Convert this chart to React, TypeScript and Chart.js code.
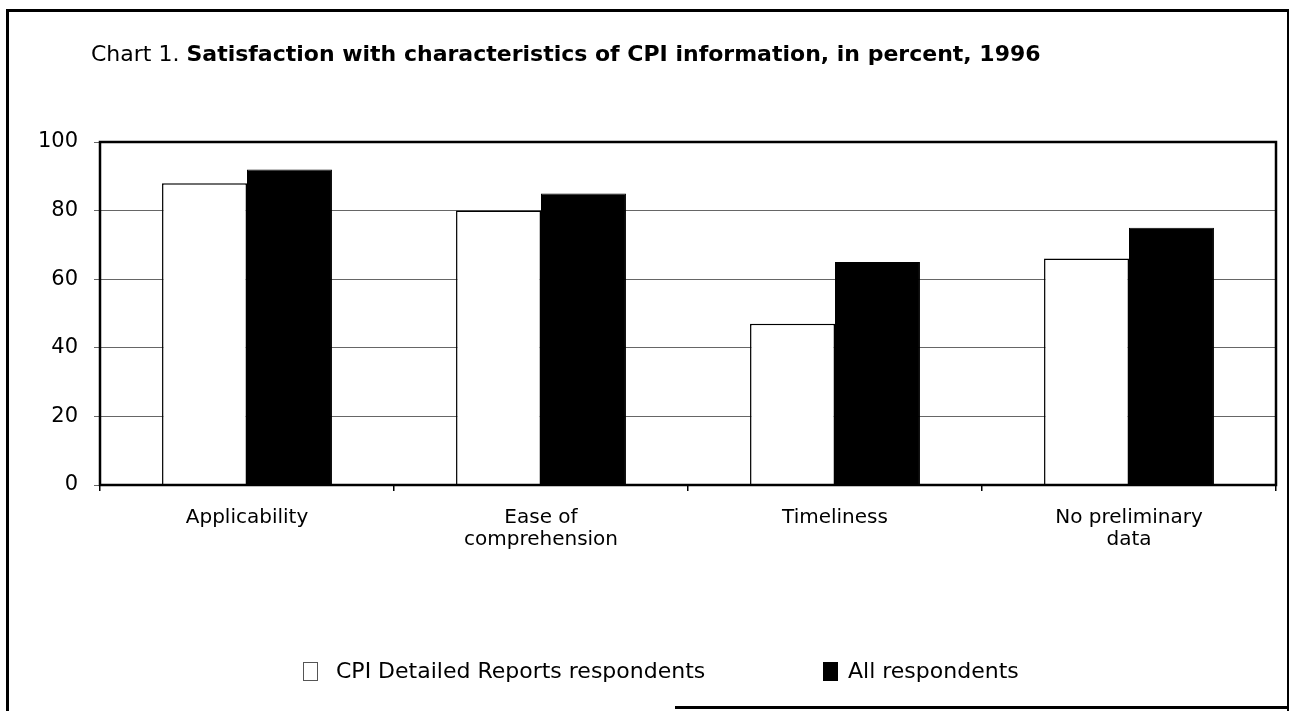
import React, { useEffect, useRef } from "react";
import { Chart, registerables } from "chart.js";

Chart.register(...registerables);

const categories: (string | string[])[] = [
  "Applicability",
  ["Ease of", "comprehension"],
  "Timeliness",
  ["No preliminary", "data"],
];
const cpiDetailed = [88, 80, 47, 66];
const allRespondents = [92, 85, 65, 75];
const yTicks = [0, 20, 40, 60, 80, 100];
const seriesNames = ["CPI Detailed Reports respondents", "All respondents"];
const titlePrefix = "Chart 1. ";
const titleMain = "Satisfaction with characteristics of CPI information, in percent, 1996";

const FONT = "'DejaVu Sans', 'Liberation Sans', Arial, sans-serif";

const frameBox = {
  id: "frameBox",
  afterDraw(chart: any) {
    const { ctx, chartArea } = chart;
    ctx.save();
    ctx.strokeStyle = "#000";
    ctx.lineWidth = 2.5;
    ctx.strokeRect(chartArea.left, chartArea.top, chartArea.right - chartArea.left, chartArea.bottom - chartArea.top);
    ctx.restore();
  },
};

export default function App() {
  const ref = useRef<HTMLCanvasElement | null>(null);

  useEffect(() => {
    if (!ref.current) return;
    const chart = new Chart(ref.current, {
      type: "bar",
      data: {
        labels: categories,
        datasets: [
          {
            label: seriesNames[0],
            data: cpiDetailed,
            backgroundColor: "#ffffff",
            borderColor: "#000000",
            borderWidth: 1.5,
            categoryPercentage: 0.578,
            barPercentage: 1.0,
          },
          {
            label: seriesNames[1],
            data: allRespondents,
            backgroundColor: "#000000",
            borderColor: "#000000",
            borderWidth: 1,
            categoryPercentage: 0.578,
            barPercentage: 1.0,
          },
        ],
      },
      options: {
        responsive: false,
        animation: false,
        devicePixelRatio: 1,
        layout: { padding: { left: 0, top: 142, right: 15, bottom: 146 } },
        plugins: {
          legend: { display: false },
          title: { display: false },
          tooltip: { enabled: false },
        },
        scales: {
          x: {
            afterFit: (s: any) => {
              s.height = 80;
            },
            grid: {
              display: true,
              drawOnChartArea: false,
              drawTicks: true,
              tickLength: 6,
              color: "#000",
              lineWidth: 1.5,
              offset: true,
            },
            border: { display: false },
            ticks: {
              color: "#000",
              font: { family: FONT, size: 20, lineHeight: 1.1 },
              padding: 16,
              maxRotation: 0,
              autoSkip: false,
            },
          },
          y: {
            min: 0,
            max: 100,
            afterFit: (s: any) => {
              s.width = 100;
            },
            afterBuildTicks: (s: any) => {
              s.ticks = yTicks.map((v) => ({ value: v }));
            },
            grid: {
              color: "#666",
              lineWidth: 1,
              tickLength: 6,
              drawTicks: true,
            },
            border: { display: false },
            ticks: {
              color: "#000",
              font: { family: FONT, size: 21 },
              padding: 16,
            },
          },
        },
      },
      plugins: [frameBox],
    });
    return () => chart.destroy();
  }, []);

  return (
    <div
      style={{
        position: "fixed",
        left: 0,
        top: 0,
        width: 1291,
        height: 711,
        background: "#fff",
        overflow: "hidden",
        fontFamily: FONT,
      }}
    >
      <canvas ref={ref} width={1291} height={711} style={{ position: "absolute", left: 0, top: 0, width: 1291, height: 711 }} />
      {/* outer frame */}
      <div style={{ position: "absolute", left: 6, top: 9, width: 1283, height: 702, borderLeft: "3px solid #000", borderTop: "3px solid #000", borderRight: "2px solid #000", boxSizing: "border-box" }} />
      <div style={{ position: "absolute", left: 675, top: 706, width: 614, height: 3, background: "#000" }} />
      {/* title */}
      <div style={{ position: "absolute", left: 91, top: 43, fontSize: 22, lineHeight: "22px", whiteSpace: "nowrap", color: "#000" }}>
        <span>{titlePrefix}</span>
        <span style={{ fontWeight: "bold" }}>{titleMain}</span>
      </div>
      {/* legend */}
      <div style={{ position: "absolute", left: 303, top: 662, width: 15, height: 19, border: "1px solid #555", boxSizing: "border-box", background: "#fff" }} />
      <div style={{ position: "absolute", left: 336, top: 660, fontSize: 22, lineHeight: "22px", whiteSpace: "nowrap", color: "#000" }}>{seriesNames[0]}</div>
      <div style={{ position: "absolute", left: 823, top: 662, width: 15, height: 19, background: "#000" }} />
      <div style={{ position: "absolute", left: 848, top: 660, fontSize: 22, lineHeight: "22px", whiteSpace: "nowrap", color: "#000" }}>{seriesNames[1]}</div>
    </div>
  );
}
